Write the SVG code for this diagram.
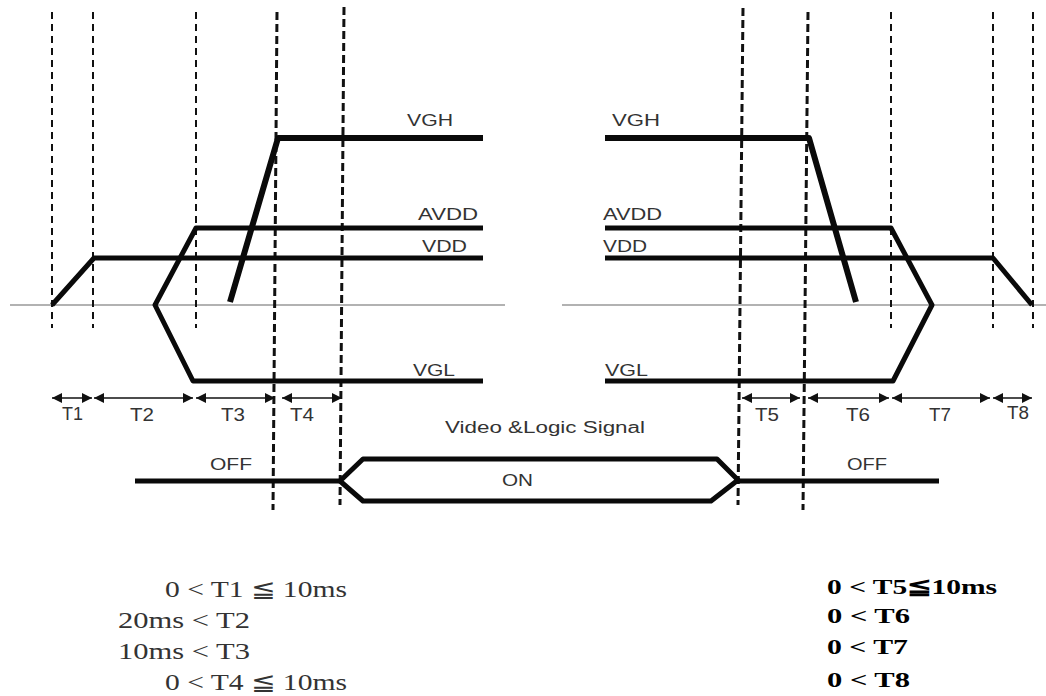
<svg xmlns="http://www.w3.org/2000/svg" width="1046" height="696" viewBox="0 0 1046 696">
<style>
.dash{stroke:#111;stroke-width:2;stroke-dasharray:7 5;fill:none}
.dashb{stroke:#111;stroke-width:3;stroke-dasharray:8 4;fill:none}
.base{stroke:#999;stroke-width:1.5;fill:none}
.sig{stroke:#0a0a0a;stroke-width:5;fill:none;stroke-linejoin:round}
.sigh{stroke:#0a0a0a;stroke-width:6;fill:none;stroke-linejoin:round}
.arr{stroke:#111;stroke-width:1.5;fill:none;marker-start:url(#ah);marker-end:url(#ah)}
.lbl{font-family:"Liberation Sans",Arial,sans-serif;font-size:16px;fill:#333}
.tl{font-family:"Liberation Sans",Arial,sans-serif;font-size:18px;fill:#333}
.cond{font-family:"Liberation Serif","DejaVu Serif",serif;font-size:23px;fill:#333}
.condb{font-family:"Liberation Serif","DejaVu Serif",serif;font-size:22px;font-weight:bold;fill:#000}
</style>
<defs>
<marker id="ah" viewBox="0 0 10 10" refX="10" refY="5" markerWidth="11" markerHeight="10" markerUnits="userSpaceOnUse" orient="auto-start-reverse">
<path d="M0,0 L10,5 L0,10 Z" fill="#111"/>
</marker>
</defs>
<rect width="1046" height="696" fill="#fff"/>
<g id="guides">
<line class="base" x1="10" y1="305" x2="505" y2="305"/>
<line class="base" x1="562" y1="305" x2="1046" y2="305"/>
<line class="dash" x1="52" y1="12" x2="52" y2="328"/>
<line class="dash" x1="93" y1="12" x2="93" y2="328"/>
<line class="dash" x1="196" y1="12" x2="196" y2="328"/>
<line class="dashb" x1="277" y1="12" x2="273" y2="510"/>
<line class="dashb" x1="344" y1="7" x2="340" y2="505"/>
<line class="dashb" x1="743" y1="8" x2="738" y2="505"/>
<line class="dashb" x1="808" y1="12" x2="803" y2="510"/>
<line class="dash" x1="891" y1="12" x2="891" y2="328"/>
<line class="dash" x1="993" y1="12" x2="993" y2="328"/>
<line class="dash" x1="1033" y1="12" x2="1033" y2="328"/>
</g>
<g id="vgh">
<polyline class="sigh" points="230,302 278,138 483,138"/>
<polyline class="sigh" points="605,138 809,138 856,302"/>
<text class="lbl" x="407" y="126" textLength="46" lengthAdjust="spacingAndGlyphs">VGH</text>
<text class="lbl" x="612" y="126" textLength="48" lengthAdjust="spacingAndGlyphs">VGH</text>
</g>
<g id="avdd">
<polyline class="sig" points="483,228 196,228 155,305 193,381 483,381"/>
<polyline class="sig" points="605,228 891,228 932,305 893,381 605,381"/>
<text class="lbl" x="418" y="220" textLength="60" lengthAdjust="spacingAndGlyphs">AVDD</text>
<text class="lbl" x="603" y="220" textLength="59" lengthAdjust="spacingAndGlyphs">AVDD</text>
</g>
<g id="vdd">
<polyline class="sig" points="52,305 94,258 483,258"/>
<polyline class="sig" points="605,258 993,258 1032,305"/>
<text class="lbl" x="422" y="252" textLength="45" lengthAdjust="spacingAndGlyphs">VDD</text>
<text class="lbl" x="603" y="252" textLength="44" lengthAdjust="spacingAndGlyphs">VDD</text>
</g>
<g id="vgl">
<text class="lbl" x="413" y="376" textLength="42" lengthAdjust="spacingAndGlyphs">VGL</text>
<text class="lbl" x="605" y="376" textLength="43" lengthAdjust="spacingAndGlyphs">VGL</text>
</g>
<g id="connectors">
<line class="arr" x1="52" y1="398" x2="92" y2="398"/>
<line class="arr" x1="94" y1="398" x2="193" y2="398"/>
<line class="arr" x1="196" y1="398" x2="275" y2="398"/>
<line class="arr" x1="282" y1="398" x2="342" y2="398"/>
<line class="arr" x1="742" y1="398" x2="800" y2="398"/>
<line class="arr" x1="808" y1="398" x2="889" y2="398"/>
<line class="arr" x1="892" y1="398" x2="990" y2="398"/>
<line class="arr" x1="993" y1="398" x2="1032" y2="398"/>
</g>
<g id="timing-labels">
<text class="tl" x="62" y="420" textLength="21" lengthAdjust="spacingAndGlyphs">T1</text>
<text class="tl" x="130" y="421" textLength="24" lengthAdjust="spacingAndGlyphs">T2</text>
<text class="tl" x="221" y="421" textLength="24" lengthAdjust="spacingAndGlyphs">T3</text>
<text class="tl" x="290" y="421" textLength="24" lengthAdjust="spacingAndGlyphs">T4</text>
<text class="tl" x="755" y="421" textLength="24" lengthAdjust="spacingAndGlyphs">T5</text>
<text class="tl" x="846" y="421" textLength="24" lengthAdjust="spacingAndGlyphs">T6</text>
<text class="tl" x="929" y="421" textLength="22" lengthAdjust="spacingAndGlyphs">T7</text>
<text class="tl" x="1007" y="419" textLength="22" lengthAdjust="spacingAndGlyphs">T8</text>
</g>
<g id="signal">
<text class="lbl" x="445" y="433" textLength="200" lengthAdjust="spacingAndGlyphs">Video &amp;Logic Signal</text>
<polyline class="sig" points="135,481 340,481"/>
<polygon class="sig" points="340,481 363,459 717,459 738,480 711,501 363,501"/>
<polyline class="sig" points="738,481 939,481"/>
<text class="lbl" x="210" y="470" textLength="42" lengthAdjust="spacingAndGlyphs">OFF</text>
<text class="lbl" x="502" y="486" textLength="31" lengthAdjust="spacingAndGlyphs">ON</text>
<text class="lbl" x="847" y="470" textLength="40" lengthAdjust="spacingAndGlyphs">OFF</text>
</g>
<g id="conditions-left">
<text class="cond" x="165" y="597" textLength="182" lengthAdjust="spacingAndGlyphs">0 &lt; T1 ≦ 10ms</text>
<text class="cond" x="118" y="628" textLength="132" lengthAdjust="spacingAndGlyphs">20ms &lt; T2</text>
<text class="cond" x="118" y="659" textLength="132" lengthAdjust="spacingAndGlyphs">10ms &lt; T3</text>
<text class="cond" x="165" y="690" textLength="182" lengthAdjust="spacingAndGlyphs">0 &lt; T4 ≦ 10ms</text>
</g>
<g id="conditions-right">
<text class="condb" x="827" y="594" textLength="170" lengthAdjust="spacingAndGlyphs">0 &lt; T5≦10ms</text>
<text class="condb" x="827" y="623" textLength="83" lengthAdjust="spacingAndGlyphs">0 &lt; T6</text>
<text class="condb" x="827" y="654" textLength="81" lengthAdjust="spacingAndGlyphs">0 &lt; T7</text>
<text class="condb" x="827" y="687" textLength="83" lengthAdjust="spacingAndGlyphs">0 &lt; T8</text>
</g>
</svg>
